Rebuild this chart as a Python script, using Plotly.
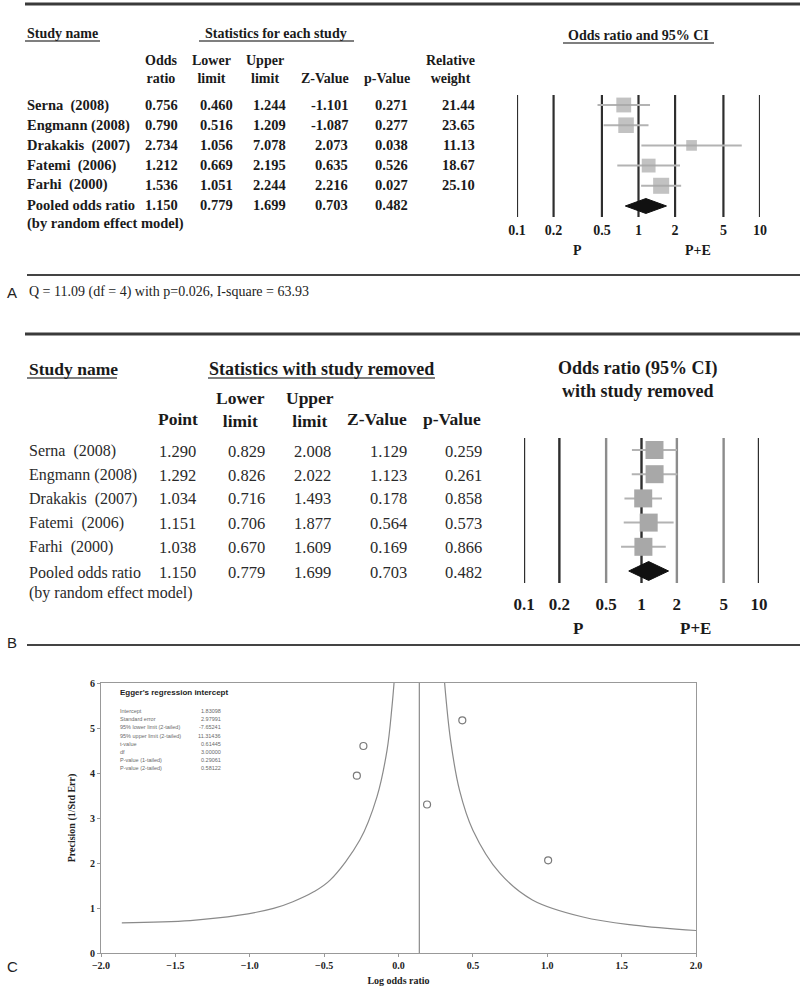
import numpy as np
import plotly.graph_objects as go

# ---------------- data ----------------
studies = ["Serna  (2008)", "Engmann (2008)", "Drakakis  (2007)", "Fatemi  (2006)", "Farhi  (2000)"]
pooled_label = ["Pooled odds ratio", "(by random effect model)"]

a_odds = [0.756, 0.790, 2.734, 1.212, 1.536]
a_lower = [0.460, 0.516, 1.056, 0.669, 1.051]
a_upper = [1.244, 1.209, 7.078, 2.195, 2.244]
a_z = [-1.101, -1.087, 2.073, 0.635, 2.216]
a_p = [0.271, 0.277, 0.038, 0.526, 0.027]
a_weight = [21.44, 23.65, 11.13, 18.67, 25.10]

pooled_or = 1.150
pooled_lower = 0.779
pooled_upper = 1.699
pooled_z = 0.703
pooled_p = 0.482

b_point = [1.290, 1.292, 1.034, 1.151, 1.038]
b_lower = [0.829, 0.826, 0.716, 0.706, 0.670]
b_upper = [2.008, 2.022, 1.493, 1.877, 1.609]
b_z = [1.129, 1.123, 0.178, 0.564, 0.169]
b_p = [0.259, 0.261, 0.858, 0.573, 0.866]

heterogeneity = "Q = 11.09 (df = 4) with p=0.026, I-square = 63.93"

forest_ticks = [0.1, 0.2, 0.5, 1, 2, 5, 10]
forest_ticktext = ["0.1", "0.2", "0.5", "1", "2", "5", "10"]
b_light_ticks = [0.5, 2, 5]

# funnel plot (panel C)
funnel_logor = [-0.280, -0.236, 1.006, 0.192, 0.429]
funnel_precision = [3.94, 4.60, 2.06, 3.30, 5.17]
pooled_log = 0.14
funnel_left_x = [-1.86, -1.40, -1.07, -0.84, -0.71, -0.57, -0.46, -0.26, -0.145, -0.077, -0.044, -0.03]
funnel_left_y = [0.67, 0.72, 0.84, 0.99, 1.14, 1.36, 1.62, 2.51, 3.47, 4.51, 5.47, 6.0]
funnel_right_x = [0.31, 0.35, 0.41, 0.50, 0.68, 0.90, 1.24, 1.58, 2.0]
funnel_right_y = [6.0, 4.73, 3.62, 2.73, 1.78, 1.18, 0.80, 0.62, 0.50]

egger_labels = ["Intercept", "Standard error", "95% lower limit (2-tailed)", "95% upper limit (2-tailed)",
                "t-value", "df", "P-value (1-tailed)", "P-value (2-tailed)"]
egger_values = ["1.83098", "2.97991", "-7.65241", "11.31436", "0.61445", "3.00000", "0.29061", "0.58122"]

# ---------------- helpers ----------------
W, H = 800, 989
SERIF = "Liberation Serif"
SANS = "Liberation Sans"


def X(p):
    return p / W


def Y(p):
    return 1 - p / H


annotations = []
shapes = []


def txt(x, y, text, size=14, bold=False, anchor="center", color="#1a1a1a", family=SERIF, yanchor="middle"):
    annotations.append(dict(
        x=X(x), y=Y(y), xref="paper", yref="paper", text=text, showarrow=False,
        xanchor=anchor, yanchor=yanchor,
        font=dict(family=family, size=size, color=color, weight="bold" if bold else "normal"),
    ))


def hline(y, x0, x1, width=2, color="#444"):
    shapes.append(dict(type="line", xref="paper", yref="paper", x0=X(x0), x1=X(x1), y0=Y(y), y1=Y(y),
                       line=dict(color=color, width=width)))


def vlines(fig, xs, ylo, yhi, color, width, xa, ya):
    vx, vy = [], []
    for v in xs:
        vx += [v, v, None]
        vy += [ylo, yhi, None]
    fig.add_trace(go.Scatter(x=vx, y=vy, mode="lines", line=dict(color=color, width=width),
                             xaxis=xa, yaxis=ya, hoverinfo="skip"))


fig = go.Figure()

# ================= PANEL A =================
hline(4, 25, 800, 3, "#3a3a3a")
txt(25, 33, "Study name", 14, True, "left")
hline(41, 25, 100, 1.5, "#555")
txt(276, 33, "Statistics for each study", 14, True)
hline(41, 199, 354, 1.5, "#555")
txt(638, 35, "Odds ratio and 95% CI", 14, True)
hline(43, 563, 714, 1.5, "#555")

a_head_x = [161, 211, 265, 325, 387, 450]
a_heads = ["Odds<br>ratio", "Lower<br>limit", "Upper<br>limit", "Z-Value", "p-Value", "Relative<br>weight"]
for hx, ht in zip(a_head_x, a_heads):
    if "<br>" in ht:
        txt(hx, 70, ht, 14, True)
    else:
        txt(hx, 78, ht, 14, True)

a_right = [180, 235, 288, 350, 410, 477]
a_row_y = [105, 125, 145, 165, 185, 205]
for i, name in enumerate(studies):
    y = a_row_y[i]
    txt(25, y, name, 14.5, True, "left")
    vals = [f"{a_odds[i]:.3f}", f"{a_lower[i]:.3f}", f"{a_upper[i]:.3f}", f"{a_z[i]:.3f}", f"{a_p[i]:.3f}",
            f"{a_weight[i]:.2f}"]
    for rx, v in zip(a_right, vals):
        txt(rx, y, v, 14.5, True, "right")
txt(25, a_row_y[5], pooled_label[0], 14.5, True, "left")
txt(25, 223, pooled_label[1], 14.5, True, "left")
for rx, v in zip(a_right, [pooled_or, pooled_lower, pooled_upper, pooled_z, pooled_p]):
    txt(rx, a_row_y[5], f"{v:.3f}", 14.5, True, "right")

txt(577, 250, "P", 14, True)
txt(698, 250, "P+E", 14, True)
hline(275, 27, 800, 2, "#444")
txt(5, 292, "A", 15, False, "left", "#222", SANS)
txt(27, 292, heterogeneity, 14, False, "left", "#222")

# forest A traces
A_YLO, A_YHI = -0.495, 5.545
vlines(fig, forest_ticks, A_YLO, A_YHI, "#2e2e2e", 2.2, "x", "y")
ci_x, ci_y = [], []
for i in range(len(studies)):
    ci_x += [a_lower[i], a_upper[i], None]
    ci_y += [i, i, None]
fig.add_trace(go.Scatter(x=ci_x, y=ci_y, mode="lines", line=dict(color="#b3b3b3", width=2),
                         xaxis="x", yaxis="y", hoverinfo="skip"))
fig.add_trace(go.Scatter(x=a_odds, y=list(range(len(studies))), mode="markers",
                         marker=dict(symbol="square", color="#a8a8a8",
                                     size=[3.2 * np.sqrt(w) for w in a_weight], line=dict(width=0)),
                         xaxis="x", yaxis="y"))
ha = 0.37
fig.add_trace(go.Scatter(x=[pooled_lower, pooled_or, pooled_upper, pooled_or, pooled_lower],
                         y=[5, 5 - ha, 5, 5 + ha, 5], mode="lines", fill="toself",
                         fillcolor="#111", line=dict(color="#111", width=1), xaxis="x", yaxis="y"))

# ================= PANEL B =================
hline(334, 25, 800, 3, "#3a3a3a")
txt(27, 369, "Study name", 17.5, True, "left")
hline(378, 27, 117, 1.5, "#555")
txt(321, 369, "Statistics with study removed", 18, True)
hline(378, 208, 435, 1.5, "#555")
txt(638, 379, "Odds ratio (95% CI)<br>with study removed", 18, True)

b_head_x = [178, 240, 310, 377, 452]
b_heads = ["Point", "Lower<br>limit", "Upper<br>limit", "Z-Value", "p-Value"]
for hx, ht in zip(b_head_x, b_heads):
    if "<br>" in ht:
        txt(hx, 409, ht, 17.5, True)
    else:
        txt(hx, 419, ht, 17.5, True)

b_right = [198, 267, 333, 409, 484]
b_row_y = [451, 475, 499, 523, 547, 572]
for i, name in enumerate(studies):
    y = b_row_y[i]
    txt(27, y, name, 16, False, "left", "#2a2a2a")
    vals = [b_point[i], b_lower[i], b_upper[i], b_z[i], b_p[i]]
    for rx, v in zip(b_right, vals):
        txt(rx, y, f"{v:.3f}", 16.5, False, "right", "#2a2a2a")
txt(27, b_row_y[5], pooled_label[0], 16, False, "left", "#2a2a2a")
txt(27, 593, pooled_label[1], 16, False, "left", "#2a2a2a")
for rx, v in zip(b_right, [pooled_or, pooled_lower, pooled_upper, pooled_z, pooled_p]):
    txt(rx, b_row_y[5], f"{v:.3f}", 16.5, False, "right", "#2a2a2a")

txt(578, 628, "P", 17, True)
txt(695, 628, "P+E", 17, True)
hline(645, 27, 800, 2, "#444")
txt(5, 642, "B", 15, False, "left", "#222", SANS)

B_YLO, B_YHI = -0.496, 5.496
vlines(fig, [t for t in forest_ticks if t not in b_light_ticks], B_YLO, B_YHI, "#2e2e2e", 2.4, "x2", "y2")
vlines(fig, b_light_ticks, B_YLO, B_YHI, "#8c8c8c", 2.4, "x2", "y2")
ci_x, ci_y = [], []
for i in range(len(studies)):
    ci_x += [b_lower[i], b_upper[i], None]
    ci_y += [i, i, None]
fig.add_trace(go.Scatter(x=ci_x, y=ci_y, mode="lines", line=dict(color="#b3b3b3", width=2),
                         xaxis="x2", yaxis="y2", hoverinfo="skip"))
fig.add_trace(go.Scatter(x=b_point, y=list(range(len(studies))), mode="markers",
                         marker=dict(symbol="square", color="#a8a8a8", size=18, line=dict(width=0)),
                         xaxis="x2", yaxis="y2"))
hb = 0.39
fig.add_trace(go.Scatter(x=[pooled_lower, pooled_or, pooled_upper, pooled_or, pooled_lower],
                         y=[5, 5 - hb, 5, 5 + hb, 5], mode="lines", fill="toself",
                         fillcolor="#111", line=dict(color="#111", width=1), xaxis="x2", yaxis="y2"))

# ================= PANEL C =================
txt(5, 966, "C", 15, False, "left", "#222", SANS)
fig.add_trace(go.Scatter(x=funnel_left_x, y=funnel_left_y, mode="lines",
                         line=dict(color="#8a8a8a", width=1.2, shape="spline"), xaxis="x3", yaxis="y3"))
fig.add_trace(go.Scatter(x=funnel_right_x, y=funnel_right_y, mode="lines",
                         line=dict(color="#8a8a8a", width=1.2, shape="spline"), xaxis="x3", yaxis="y3"))
fig.add_trace(go.Scatter(x=funnel_logor, y=funnel_precision, mode="markers",
                         marker=dict(symbol="circle-open", size=7, color="#7a7a7a", line=dict(width=1.2)),
                         xaxis="x3", yaxis="y3"))
shapes.append(dict(type="line", xref="x3", yref="y3", x0=pooled_log, x1=pooled_log, y0=0, y1=6,
                   line=dict(color="#8a8a8a", width=1.2)))

txt(118, 692, "Egger's regression intercept", 8, True, "left", "#222", SANS)
for k, (lab, val) in enumerate(zip(egger_labels, egger_values)):
    yy = 711 + 8.2 * k
    txt(118, yy, lab, 5.5, False, "left", "#6a6a6a", SANS)
    txt(223, yy, val, 5.5, False, "right", "#6a6a6a", SANS)

# ---------------- layout ----------------
forest_common = dict(type="log", range=[-1, 1], tickvals=forest_ticks, ticktext=forest_ticktext,
                     showgrid=False, ticks="", zeroline=False, automargin=False,
                     showline=False, fixedrange=True)

fig.update_layout(
    width=W, height=H, margin=dict(l=0, r=0, t=0, b=0, pad=0), autosize=False,
    paper_bgcolor="white", plot_bgcolor="white", showlegend=False,
    xaxis=dict(domain=[X(517), X(760)], anchor="y",
               tickfont=dict(family=SERIF, size=14, color="#1a1a1a", weight="bold"),
               ticklabelstandoff=3, **forest_common),
    yaxis=dict(domain=[Y(217), Y(95)], anchor="x", range=[A_YHI, A_YLO], visible=False,
               fixedrange=True, automargin=False),
    xaxis2=dict(domain=[X(524), X(759)], anchor="y2",
                tickfont=dict(family=SERIF, size=17, color="#1a1a1a", weight="bold"),
                ticklabelstandoff=9, **forest_common),
    yaxis2=dict(domain=[Y(583), Y(438)], anchor="x2", range=[B_YHI, B_YLO], visible=False,
                fixedrange=True, automargin=False),
    xaxis3=dict(domain=[X(101), X(696)], anchor="y3", range=[-2, 2], dtick=0.5, tick0=0, tickformat=".1f",
                showline=True, mirror=True, linecolor="#999", linewidth=1, ticks="outside", ticklen=3,
                tickcolor="#999", showgrid=False, zeroline=False, automargin=False,
                tickfont=dict(family=SERIF, size=10, color="#222", weight="bold"),
                title=dict(text="Log odds ratio", standoff=6,
                           font=dict(family=SERIF, size=10, color="#222", weight="bold"))),
    yaxis3=dict(domain=[Y(953), Y(683)], anchor="x3", range=[0, 6], dtick=1,
                showline=True, mirror=True, linecolor="#999", linewidth=1, ticks="outside", ticklen=3,
                tickcolor="#999", showgrid=False, zeroline=False, automargin=False,
                tickfont=dict(family=SERIF, size=10, color="#222", weight="bold"),
                title=dict(text="Precision (1/Std Err)", standoff=12,
                           font=dict(family=SERIF, size=10, color="#222", weight="bold"))),
    annotations=annotations,
    shapes=shapes,
)

fig.write_html("out.html", config={"displayModeBar": False},
               post_script="document.body.style.margin='0px';")
